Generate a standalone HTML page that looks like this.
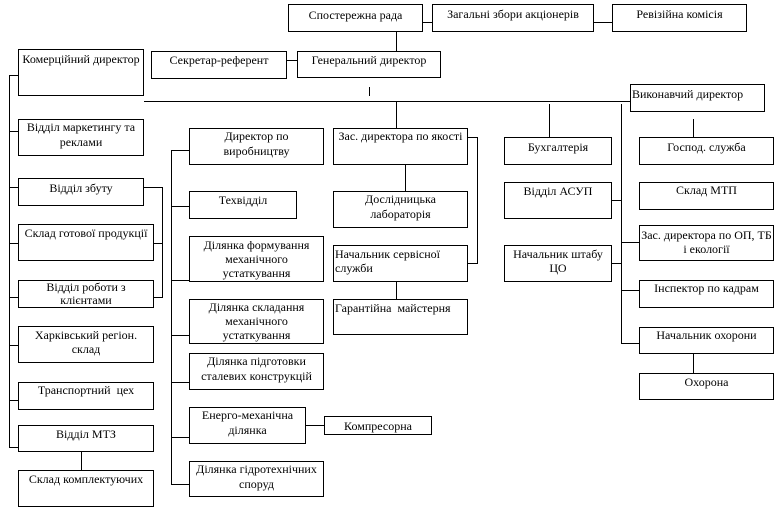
<!DOCTYPE html>
<html><head><meta charset="utf-8"><style>
html,body{margin:0;padding:0;background:#fff;}
body{width:778px;height:511px;position:relative;overflow:hidden;}
.b{position:absolute;border:1px solid #000;box-sizing:border-box;text-align:center;font-family:"Liberation Serif","DejaVu Serif",serif;font-size:12px;line-height:14.5px;white-space:nowrap;color:#000;background:#fff;}
.l{position:absolute;background:#000;}
.lf{text-align:left;padding-left:1px;}
</style></head><body>

<!-- lines -->
<div class="l" style="left:423px;top:22px;width:9px;height:1px"></div>
<div class="l" style="left:594px;top:22px;width:18px;height:1px"></div>
<div class="l" style="left:396px;top:32px;width:1px;height:19px"></div>
<div class="l" style="left:287px;top:60px;width:10px;height:1px"></div>
<div class="l" style="left:369px;top:87px;width:1px;height:9px"></div>
<div class="l" style="left:144px;top:101px;width:486px;height:1px"></div>
<div class="l" style="left:396px;top:101px;width:1px;height:27px"></div>
<div class="l" style="left:549px;top:104px;width:1px;height:33px"></div>
<div class="l" style="left:621px;top:104px;width:1px;height:240px"></div>
<div class="l" style="left:693px;top:119px;width:1px;height:18px"></div>

<!-- left column -->
<div class="l" style="left:9px;top:75px;width:1px;height:373px"></div>
<div class="l" style="left:9px;top:75px;width:9px;height:1px"></div>
<div class="l" style="left:9px;top:131px;width:9px;height:1px"></div>
<div class="l" style="left:9px;top:187px;width:9px;height:1px"></div>
<div class="l" style="left:9px;top:243px;width:9px;height:1px"></div>
<div class="l" style="left:9px;top:297px;width:9px;height:1px"></div>
<div class="l" style="left:9px;top:345px;width:9px;height:1px"></div>
<div class="l" style="left:9px;top:400px;width:9px;height:1px"></div>
<div class="l" style="left:9px;top:447px;width:9px;height:1px"></div>
<div class="l" style="left:144px;top:187px;width:18px;height:1px"></div>
<div class="l" style="left:162px;top:187px;width:1px;height:111px"></div>
<div class="l" style="left:154px;top:243px;width:8px;height:1px"></div>
<div class="l" style="left:154px;top:297px;width:8px;height:1px"></div>
<div class="l" style="left:81px;top:452px;width:1px;height:18px"></div>

<!-- middle column -->
<div class="l" style="left:171px;top:150px;width:1px;height:335px"></div>
<div class="l" style="left:171px;top:150px;width:18px;height:1px"></div>
<div class="l" style="left:171px;top:206px;width:18px;height:1px"></div>
<div class="l" style="left:171px;top:280px;width:18px;height:1px"></div>
<div class="l" style="left:171px;top:335px;width:18px;height:1px"></div>
<div class="l" style="left:171px;top:382px;width:18px;height:1px"></div>
<div class="l" style="left:171px;top:437px;width:18px;height:1px"></div>
<div class="l" style="left:171px;top:484px;width:18px;height:1px"></div>
<div class="l" style="left:306px;top:425px;width:18px;height:1px"></div>

<!-- quality column -->
<div class="l" style="left:405px;top:165px;width:1px;height:26px"></div>
<div class="l" style="left:468px;top:137px;width:9px;height:1px"></div>
<div class="l" style="left:477px;top:137px;width:1px;height:127px"></div>
<div class="l" style="left:468px;top:263px;width:9px;height:1px"></div>
<div class="l" style="left:396px;top:282px;width:1px;height:17px"></div>

<!-- right -->
<div class="l" style="left:612px;top:200px;width:9px;height:1px"></div>
<div class="l" style="left:612px;top:263px;width:9px;height:1px"></div>
<div class="l" style="left:621px;top:242px;width:18px;height:1px"></div>
<div class="l" style="left:621px;top:290px;width:18px;height:1px"></div>
<div class="l" style="left:621px;top:343px;width:18px;height:1px"></div>
<div class="l" style="left:693px;top:354px;width:1px;height:19px"></div>

<!-- boxes -->
<div class="b" style="left:288px;top:4px;width:135px;height:28px;padding-top:2.5px">Спостережна рада</div>
<div class="b" style="left:432px;top:4px;width:162px;height:28px;padding-top:1.7px">Загальні збори акціонерів</div>
<div class="b" style="left:612px;top:4px;width:135px;height:28px;padding-top:1.7px">Ревізійна комісія</div>
<div class="b" style="left:151px;top:51px;width:136px;height:28px;padding-top:0.7px">Секретар-референт</div>
<div class="b" style="left:297px;top:51px;width:144px;height:27px;padding-top:0.7px">Генеральний директор</div>
<div class="b" style="left:18px;top:49px;width:126px;height:47px;padding-top:1.7px">Комерційний директор</div>
<div class="b lf" style="left:630px;top:84px;width:135px;height:28px;padding-top:1.7px">Виконавчий директор</div>

<div class="b" style="left:18px;top:119px;width:126px;height:37px;line-height:15px;padding-top:0">Відділ маркетингу та<br>реклами</div>
<div class="b" style="left:189px;top:128px;width:135px;height:37px;line-height:15px;padding-top:0">Директор по<br>виробництву</div>
<div class="b" style="left:333px;top:128px;width:135px;height:37px;line-height:15px;padding-top:0">Зас. директора по якості</div>
<div class="b" style="left:504px;top:137px;width:108px;height:28px;padding-top:2px">Бухгалтерія</div>
<div class="b" style="left:639px;top:137px;width:135px;height:28px;padding-top:2px">Господ. служба</div>

<div class="b" style="left:18px;top:178px;width:126px;height:28px;padding-top:1.7px">Відділ збуту</div>
<div class="b" style="left:189px;top:191px;width:108px;height:28px;padding-top:1px">Техвідділ</div>
<div class="b" style="left:333px;top:191px;width:135px;height:37px;line-height:15px;padding-top:0">Дослідницька<br>лабораторія</div>
<div class="b" style="left:504px;top:182px;width:108px;height:37px;padding-top:0.7px">Відділ АСУП</div>
<div class="b" style="left:639px;top:182px;width:135px;height:28px;padding-top:0.4px">Склад МТП</div>

<div class="b" style="left:18px;top:224px;width:136px;height:37px;padding-top:0.7px">Склад готової продукції</div>
<div class="b" style="left:189px;top:236px;width:135px;height:46px;line-height:14px;padding-top:1px">Ділянка формування<br>механічного<br>устаткування</div>
<div class="b lf" style="left:333px;top:245px;width:135px;height:37px;padding-top:0.7px">Начальник сервісної<br>служби</div>
<div class="b" style="left:504px;top:245px;width:108px;height:37px;padding-top:0.7px">Начальник штабу<br>ЦО</div>
<div class="b" style="left:639px;top:225px;width:135px;height:36px;line-height:14.3px;padding-top:1.7px">Зас. директора по ОП, ТБ<br>і екології</div>

<div class="b" style="left:18px;top:280px;width:136px;height:28px;line-height:13.3px;padding-top:0">Відділ роботи з<br>клієнтами</div>
<div class="b" style="left:639px;top:280px;width:135px;height:28px;padding-top:0.4px">Інспектор по кадрам</div>
<div class="b" style="left:189px;top:299px;width:135px;height:45px;line-height:14px;padding-top:0">Ділянка складання<br>механічного<br>устаткування</div>
<div class="b lf" style="left:333px;top:299px;width:135px;height:36px;padding-top:0.7px">Гарантійна&nbsp; майстерня</div>

<div class="b" style="left:18px;top:326px;width:136px;height:37px;line-height:13.5px;padding-top:2px">Харківський регіон.<br>склад</div>
<div class="b" style="left:639px;top:327px;width:135px;height:27px;padding-top:0.4px">Начальник охорони</div>
<div class="b" style="left:189px;top:353px;width:135px;height:37px;line-height:15px;padding-top:0">Ділянка підготовки<br>сталевих конструкцій</div>
<div class="b" style="left:639px;top:373px;width:135px;height:27px;padding-top:1px">Охорона</div>

<div class="b" style="left:18px;top:382px;width:136px;height:28px;padding-top:0.4px">Транспортний&nbsp; цех</div>
<div class="b" style="left:189px;top:407px;width:117px;height:37px;line-height:15px;padding-top:0.2px">Енерго-механічна<br>ділянка</div>
<div class="b" style="left:324px;top:416px;width:108px;height:19px;line-height:14px;padding-top:1.5px">Компресорна</div>
<div class="b" style="left:18px;top:425px;width:136px;height:27px;padding-top:1px">Відділ МТЗ</div>
<div class="b" style="left:189px;top:461px;width:135px;height:36px;line-height:15px;padding-top:0">Ділянка гідротехнічних<br>споруд</div>
<div class="b" style="left:18px;top:470px;width:136px;height:37px;padding-top:1px">Склад комплектуючих</div>

</body></html>
